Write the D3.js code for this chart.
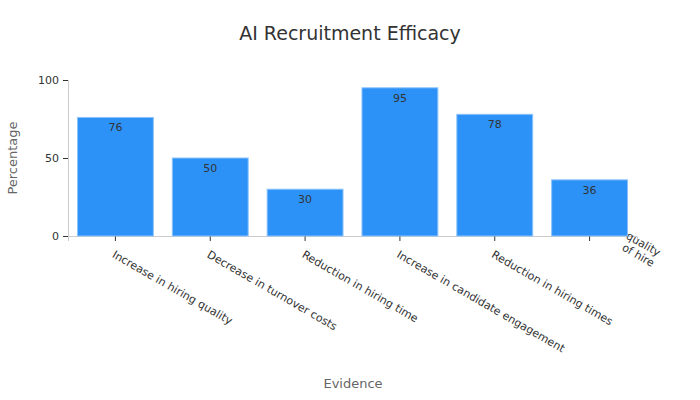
<!DOCTYPE html>
<html>
<head>
<meta charset="utf-8">
<script src="https://cdn.jsdelivr.net/npm/d3@7"></script>
<style>
  body { margin: 0; background: #fff; }
  text { font-family: "DejaVu Sans", sans-serif; }
</style>
</head>
<body>
<svg id="chart" width="700" height="400"></svg>
<script>
const categories = [
  'Increase in hiring quality',
  'Decrease in turnover costs',
  'Reduction in hiring time',
  'Increase in candidate engagement',
  'Reduction in hiring times',
  'Increase in quality\nof hire'
];
const values = [76, 50, 30, 95, 78, 36];
const yTicks = [0, 50, 100];

const margin = { top: 80, right: 63, bottom: 164, left: 68 };
const width = 700 - margin.left - margin.right;
const height = 400 - margin.top - margin.bottom;

const svg = d3.select('#chart');
const g = svg.append('g').attr('transform', `translate(${margin.left},${margin.top})`);

const x = d3.scaleBand().domain(categories).range([0, width]).paddingInner(0.2).paddingOuter(0.1);
const y = d3.scaleLinear().domain([0, 100]).range([height, 0]);

svg.append('text')
  .attr('x', 350).attr('y', 40)
  .attr('text-anchor', 'middle')
  .attr('font-size', 19).attr('fill', '#333')
  .text('AI Recruitment Efficacy');

const yAxis = g.append('g').call(d3.axisLeft(y).tickValues(yTicks).tickSize(5).tickPadding(4));
yAxis.select('.domain').attr('stroke', '#ccc');
yAxis.selectAll('.tick line').attr('stroke', '#333');
yAxis.selectAll('.tick text').attr('font-size', 11).attr('fill', '#333');

const xAxis = g.append('g').attr('transform', `translate(0,${height})`)
  .call(d3.axisBottom(x).tickSize(5).tickFormat(''));
xAxis.select('.domain').attr('stroke', '#ccc');
xAxis.selectAll('.tick line').attr('stroke', '#333');

xAxis.selectAll('.tick').each(function(d) {
  const t = d3.select(this).append('text')
    .attr('transform', 'translate(0,14) rotate(30)')
    .attr('text-anchor', 'start')
    .attr('font-size', 11).attr('fill', '#333');
  const lines = d.split('\n');
  if (lines.length > 1) {
    t.attr('text-anchor', 'end').attr('transform', `translate(${x.bandwidth() * 0.95},14) rotate(30)`);
  }
  lines.forEach((l, i) => {
    t.append('tspan').attr('x', 0).attr('dy', i === 0 ? '0.71em' : '1.1em').text(l);
  });
});

g.selectAll('rect.bar')
  .data(values)
  .join('rect')
  .attr('class', 'bar')
  .attr('x', (d, i) => x(categories[i]))
  .attr('y', d => y(d))
  .attr('width', x.bandwidth())
  .attr('height', d => height - y(d))
  .attr('fill', '#2d92f7')
  .attr('stroke', '#8cc3fa')
  .attr('stroke-width', 1);

g.selectAll('text.val')
  .data(values)
  .join('text')
  .attr('class', 'val')
  .attr('x', (d, i) => x(categories[i]) + x.bandwidth() / 2)
  .attr('y', d => y(d) + 14)
  .attr('text-anchor', 'middle')
  .attr('font-size', 11).attr('fill', '#333')
  .text(d => d);

svg.append('text')
  .attr('transform', `translate(17,${margin.top + height / 2}) rotate(-90)`)
  .attr('text-anchor', 'middle')
  .attr('font-size', 13).attr('fill', '#666')
  .text('Percentage');

svg.append('text')
  .attr('x', 353).attr('y', 388)
  .attr('text-anchor', 'middle')
  .attr('font-size', 13).attr('fill', '#666')
  .text('Evidence');
</script>
</body>
</html>
